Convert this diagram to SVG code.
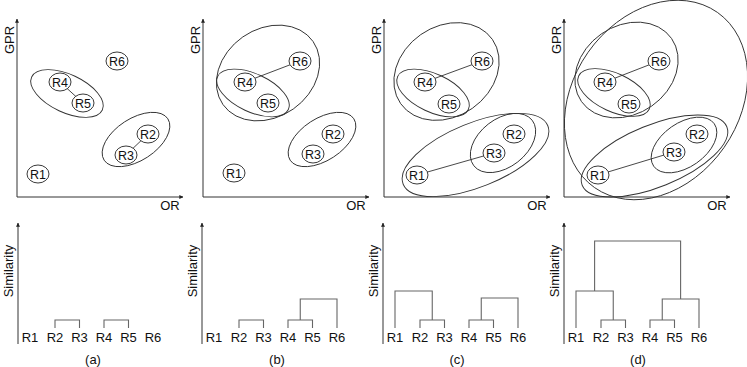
<svg xmlns="http://www.w3.org/2000/svg" width="747" height="367" viewBox="0 0 747 367">
<defs>
<marker id="arr" viewBox="0 0 6 6" refX="5.5" refY="3" markerWidth="4" markerHeight="4" markerUnits="userSpaceOnUse" orient="auto">
<path d="M0,0 L6,3 L0,6 z" fill="#222"/>
</marker>
<style>
text{font-family:"Liberation Sans",Arial,sans-serif;fill:#111}
.ax{stroke:#333;stroke-width:1;fill:none}
.cl{stroke:#333;stroke-width:0.9;fill:none}
.lk{stroke:#333;stroke-width:0.9}
.nd ellipse{stroke:#222;stroke-width:0.9;fill:#fff}
.nd text{font-size:12.5px;text-anchor:middle}
.lbl{font-size:13px}
.dg{stroke:#666;stroke-width:1.1;fill:none}
.lv{font-size:13px;text-anchor:middle}
.cap{font-size:13px;text-anchor:middle}
</style>
</defs>
<rect width="747" height="367" fill="#fff"/>

<!-- Panel (a) -->
<g id="panel-a" transform="translate(17,0)">
<g id="a-axes">
<line class="ax" x1="0" y1="197" x2="0" y2="19" marker-end="url(#arr)"/>
<line class="ax" x1="0" y1="197" x2="166" y2="197" marker-end="url(#arr)"/>
<text class="lbl" transform="translate(-3,40) rotate(-90)" text-anchor="middle">GPR</text>
<text class="lbl" x="153" y="210" text-anchor="middle">OR</text>
</g>
<g id="a-clusters">
<ellipse class="cl" cx="50" cy="93.5" rx="39" ry="19" transform="rotate(25 50 93.5)"/>
<ellipse class="cl" cx="119" cy="139.5" rx="38" ry="21" transform="rotate(-33 119 139.5)"/>
</g>
<g id="a-connectors">
<line class="lk" x1="43" y1="82" x2="66" y2="103"/>
<line class="lk" x1="131" y1="134" x2="109" y2="155"/>
</g>
<g id="a-R1" class="nd"><ellipse cx="21" cy="174" rx="11" ry="9"/><text x="21" y="178.5">R1</text></g>
<g id="a-R2" class="nd"><ellipse cx="131" cy="134" rx="11" ry="9"/><text x="131" y="138.5">R2</text></g>
<g id="a-R3" class="nd"><ellipse cx="109" cy="155" rx="11" ry="9"/><text x="109" y="159.5">R3</text></g>
<g id="a-R4" class="nd"><ellipse cx="43" cy="82" rx="11" ry="9"/><text x="43" y="86.5">R4</text></g>
<g id="a-R5" class="nd"><ellipse cx="66" cy="103" rx="11" ry="9"/><text x="66" y="107.5">R5</text></g>
<g id="a-R6" class="nd"><ellipse cx="100" cy="61" rx="11" ry="9"/><text x="100" y="65.5">R6</text></g>
</g>

<!-- Panel (b) -->
<g id="panel-b" transform="translate(203,0)">
<g id="b-axes">
<line class="ax" x1="0" y1="197" x2="0" y2="19" marker-end="url(#arr)"/>
<line class="ax" x1="0" y1="197" x2="166" y2="197" marker-end="url(#arr)"/>
<text class="lbl" transform="translate(-3,40) rotate(-90)" text-anchor="middle">GPR</text>
<text class="lbl" x="153" y="210" text-anchor="middle">OR</text>
</g>
<g id="b-clusters">
<ellipse class="cl" cx="50" cy="93" rx="39" ry="19" transform="rotate(25 50 93)"/>
<ellipse class="cl" cx="65" cy="73" rx="55" ry="44" transform="rotate(-35 65 73)"/>
<ellipse class="cl" cx="119" cy="139.5" rx="38" ry="21" transform="rotate(-33 119 139.5)"/>
</g>
<g id="b-connectors">
<line class="lk" x1="42" y1="82" x2="97" y2="61"/>
</g>
<g id="b-R1" class="nd"><ellipse cx="31" cy="173" rx="11" ry="9"/><text x="31" y="177.5">R1</text></g>
<g id="b-R2" class="nd"><ellipse cx="130" cy="134" rx="11" ry="9"/><text x="130" y="138.5">R2</text></g>
<g id="b-R3" class="nd"><ellipse cx="110" cy="154" rx="11" ry="9"/><text x="110" y="158.5">R3</text></g>
<g id="b-R4" class="nd"><ellipse cx="42" cy="82" rx="11" ry="9"/><text x="42" y="86.5">R4</text></g>
<g id="b-R5" class="nd"><ellipse cx="65" cy="103" rx="11" ry="9"/><text x="65" y="107.5">R5</text></g>
<g id="b-R6" class="nd"><ellipse cx="97" cy="61" rx="11" ry="9"/><text x="97" y="65.5">R6</text></g>
</g>

<!-- Panel (c) -->
<g id="panel-c" transform="translate(384,0)">
<g id="c-axes">
<line class="ax" x1="0" y1="197" x2="0" y2="19" marker-end="url(#arr)"/>
<line class="ax" x1="0" y1="197" x2="166" y2="197" marker-end="url(#arr)"/>
<text class="lbl" transform="translate(-3,40) rotate(-90)" text-anchor="middle">GPR</text>
<text class="lbl" x="153" y="210" text-anchor="middle">OR</text>
</g>
<g id="c-clusters">
<ellipse class="cl" cx="49" cy="93" rx="39" ry="19" transform="rotate(25 49 93)"/>
<ellipse class="cl" cx="62.5" cy="71.5" rx="56" ry="45" transform="rotate(-35 62.5 71.5)"/>
<ellipse class="cl" cx="119" cy="143" rx="37" ry="24" transform="rotate(-38 119 143)"/>
<ellipse class="cl" cx="91.5" cy="155" rx="78" ry="32" transform="rotate(-22 91.5 155)"/>
</g>
<g id="c-connectors">
<line class="lk" x1="41" y1="82" x2="98" y2="61"/>
<line class="lk" x1="33" y1="175" x2="110" y2="153"/>
</g>
<g id="c-R1" class="nd"><ellipse cx="33" cy="175" rx="11" ry="9"/><text x="33" y="179.5">R1</text></g>
<g id="c-R2" class="nd"><ellipse cx="130" cy="134" rx="11" ry="9"/><text x="130" y="138.5">R2</text></g>
<g id="c-R3" class="nd"><ellipse cx="110" cy="153" rx="11" ry="9"/><text x="110" y="157.5">R3</text></g>
<g id="c-R4" class="nd"><ellipse cx="41" cy="82" rx="11" ry="9"/><text x="41" y="86.5">R4</text></g>
<g id="c-R5" class="nd"><ellipse cx="65" cy="104" rx="11" ry="9"/><text x="65" y="108.5">R5</text></g>
<g id="c-R6" class="nd"><ellipse cx="98" cy="61" rx="11" ry="9"/><text x="98" y="65.5">R6</text></g>
</g>

<!-- Panel (d) -->
<g id="panel-d" transform="translate(564,0)">
<g id="d-axes">
<line class="ax" x1="0" y1="197" x2="0" y2="19" marker-end="url(#arr)"/>
<line class="ax" x1="0" y1="197" x2="166" y2="197" marker-end="url(#arr)"/>
<text class="lbl" transform="translate(-3,40) rotate(-90)" text-anchor="middle">GPR</text>
<text class="lbl" x="153" y="210" text-anchor="middle">OR</text>
</g>
<g id="d-clusters">
<ellipse class="cl" cx="50" cy="92.5" rx="39" ry="19" transform="rotate(25 50 92.5)"/>
<ellipse class="cl" cx="62.5" cy="70" rx="55" ry="44" transform="rotate(-35 62.5 70)"/>
<ellipse class="cl" cx="120" cy="145" rx="37" ry="22" transform="rotate(-35 120 145)"/>
<ellipse class="cl" cx="90.5" cy="156" rx="78" ry="31" transform="rotate(-22 90.5 156)"/>
<ellipse class="cl" cx="92" cy="100" rx="107" ry="83" transform="rotate(-55 92 100)"/>
</g>
<g id="d-connectors">
<line class="lk" x1="41" y1="82" x2="95" y2="61"/>
<line class="lk" x1="34" y1="175" x2="110" y2="152"/>
</g>
<g id="d-R1" class="nd"><ellipse cx="34" cy="175" rx="11" ry="9"/><text x="34" y="179.5">R1</text></g>
<g id="d-R2" class="nd"><ellipse cx="133" cy="134" rx="11" ry="9"/><text x="133" y="138.5">R2</text></g>
<g id="d-R3" class="nd"><ellipse cx="110" cy="152" rx="11" ry="9"/><text x="110" y="156.5">R3</text></g>
<g id="d-R4" class="nd"><ellipse cx="41" cy="82" rx="11" ry="9"/><text x="41" y="86.5">R4</text></g>
<g id="d-R5" class="nd"><ellipse cx="65" cy="104" rx="11" ry="9"/><text x="65" y="108.5">R5</text></g>
<g id="d-R6" class="nd"><ellipse cx="95" cy="61" rx="11" ry="9"/><text x="95" y="65.5">R6</text></g>
</g>

<!-- Dendrograms -->
<g id="dendro-a" transform="translate(18,0)">
<line class="ax" x1="0" y1="344" x2="0" y2="223" marker-end="url(#arr)"/>
<text class="cap" transform="translate(-5,271) rotate(-90)">Similarity</text>
<g id="dendro-a-links">
<path class="dg" d="M37,328 V320 H61.5 V328"/>
<path class="dg" d="M86,328 V320 H110.5 V328"/>
</g>
<text class="lv" x="12" y="341.5">R1</text><text class="lv" x="37" y="341.5">R2</text><text class="lv" x="61.5" y="341.5">R3</text><text class="lv" x="86" y="341.5">R4</text><text class="lv" x="110.5" y="341.5">R5</text><text class="lv" x="135" y="341.5">R6</text>
<text class="cap" x="75" y="364">(a)</text>
</g>

<g id="dendro-b" transform="translate(202,0)">
<line class="ax" x1="0" y1="344" x2="0" y2="223" marker-end="url(#arr)"/>
<text class="cap" transform="translate(-5,271) rotate(-90)">Similarity</text>
<g id="dendro-b-links">
<path class="dg" d="M37,328 V320 H61.5 V328"/>
<path class="dg" d="M86,328 V320 H110.5 V328"/>
<path class="dg" d="M98.25,320 V299 H135 V328"/>
</g>
<text class="lv" x="12" y="341.5">R1</text><text class="lv" x="37" y="341.5">R2</text><text class="lv" x="61.5" y="341.5">R3</text><text class="lv" x="86" y="341.5">R4</text><text class="lv" x="110.5" y="341.5">R5</text><text class="lv" x="135" y="341.5">R6</text>
<text class="cap" x="75" y="364">(b)</text>
</g>

<g id="dendro-c" transform="translate(383,0)">
<line class="ax" x1="0" y1="344" x2="0" y2="223" marker-end="url(#arr)"/>
<text class="cap" transform="translate(-5,271) rotate(-90)">Similarity</text>
<g id="dendro-c-links">
<path class="dg" d="M37,328 V320 H61.5 V328"/>
<path class="dg" d="M86,328 V320 H110.5 V328"/>
<path class="dg" d="M98.25,320 V298 H135 V328"/>
<path class="dg" d="M12,328 V291 H49.25 V320"/>
</g>
<text class="lv" x="12" y="341.5">R1</text><text class="lv" x="37" y="341.5">R2</text><text class="lv" x="61.5" y="341.5">R3</text><text class="lv" x="86" y="341.5">R4</text><text class="lv" x="110.5" y="341.5">R5</text><text class="lv" x="135" y="341.5">R6</text>
<text class="cap" x="74" y="364">(c)</text>
</g>

<g id="dendro-d" transform="translate(564,0)">
<line class="ax" x1="0" y1="344" x2="0" y2="223" marker-end="url(#arr)"/>
<text class="cap" transform="translate(-5,271) rotate(-90)">Similarity</text>
<g id="dendro-d-links">
<path class="dg" d="M37,328 V320 H61.5 V328"/>
<path class="dg" d="M86,328 V320 H110.5 V328"/>
<path class="dg" d="M98.25,320 V299 H135 V328"/>
<path class="dg" d="M12,328 V291 H49.25 V320"/>
<path class="dg" d="M30.6,291 V241 H116.6 V299"/>
</g>
<text class="lv" x="12" y="341.5">R1</text><text class="lv" x="37" y="341.5">R2</text><text class="lv" x="61.5" y="341.5">R3</text><text class="lv" x="86" y="341.5">R4</text><text class="lv" x="110.5" y="341.5">R5</text><text class="lv" x="135" y="341.5">R6</text>
<text class="cap" x="74" y="364">(d)</text>
</g>
</svg>
